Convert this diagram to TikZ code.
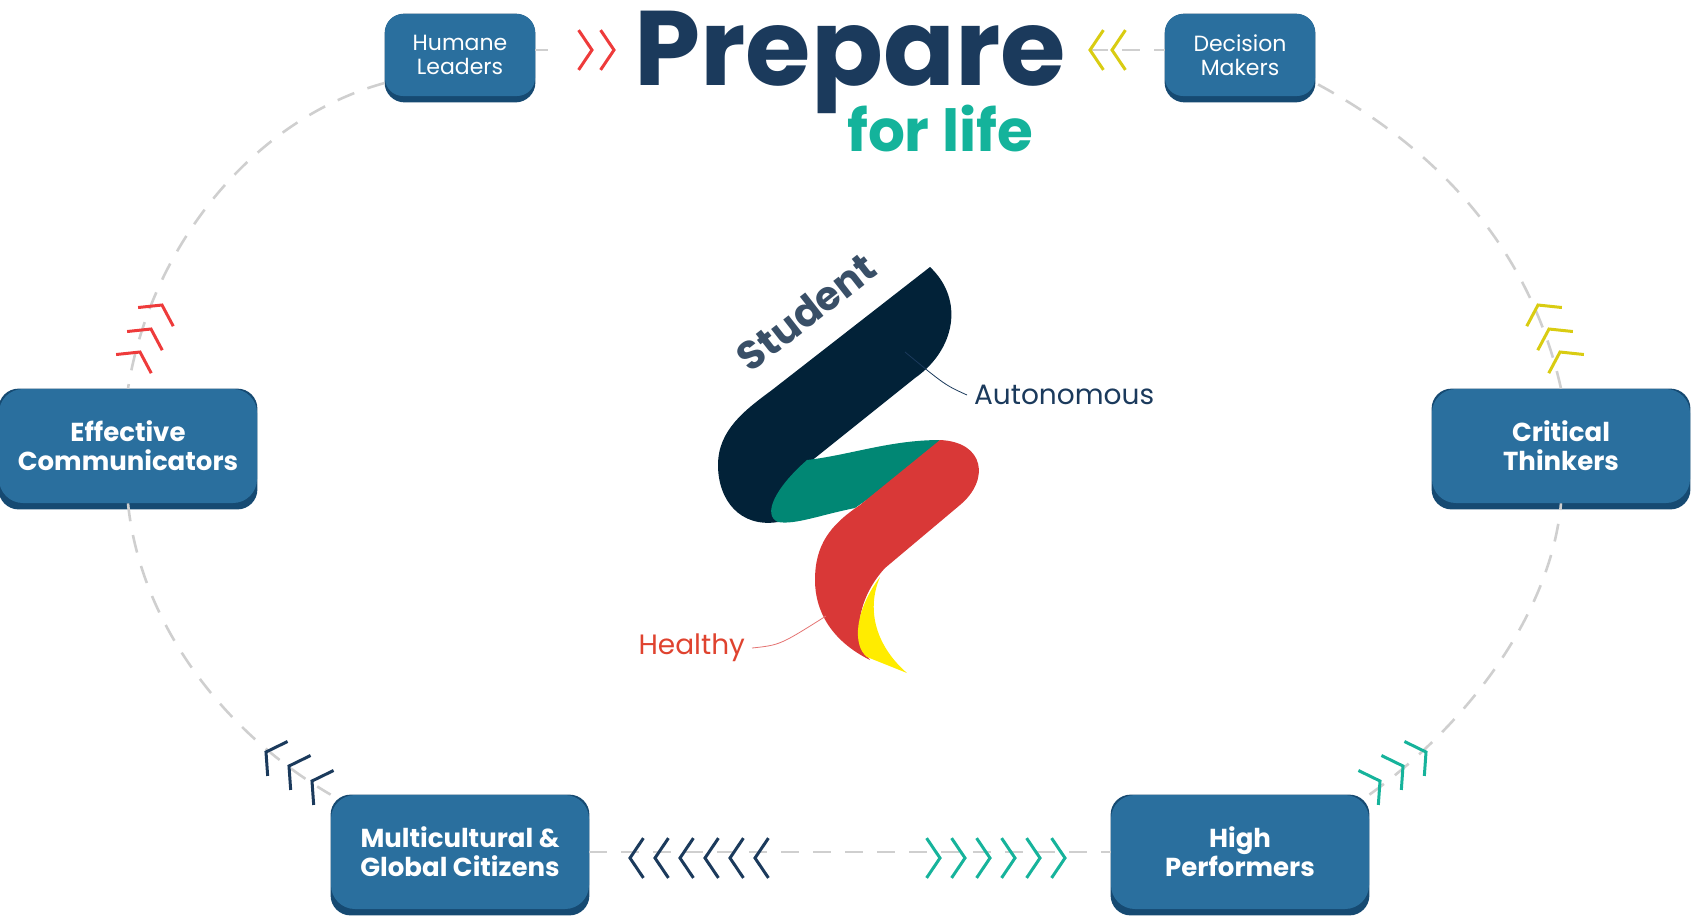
\documentclass[tikz,border=0pt]{standalone}
\usepackage{fontspec}
\setmainfont{Poppins}
\usetikzlibrary{positioning,backgrounds,calc}
\definecolor{boxblue}{HTML}{2A6F9E}
\definecolor{boxshade}{HTML}{164A72}
\definecolor{navy}{HTML}{1B3A5C}
\definecolor{logonavy}{HTML}{022238}
\definecolor{logogreen}{HTML}{018774}
\definecolor{logored}{HTML}{D93837}
\definecolor{logoyellow}{HTML}{FFEC00}
\definecolor{teal}{HTML}{14B39B}
\definecolor{chevred}{HTML}{EE3B3B}
\definecolor{chevyellow}{HTML}{D9CC12}
\definecolor{chevnavy}{HTML}{1B3A5C}
\definecolor{chevteal}{HTML}{16B39B}
\definecolor{dashgray}{HTML}{CFCFCF}
\begin{document}
\begin{tikzpicture}[x=0.5pt, y=-0.5pt,
small box/.style={fill=boxblue, rounded corners=9pt, minimum width=75pt, minimum height=41pt,
  text=white, align=center, font=\fontsize{11}{12}\selectfont, inner sep=2pt},
big box/.style={small box, minimum width=129pt, minimum height=57pt, rounded corners=12pt,
  font=\bfseries\fontsize{13}{14.5}\selectfont},
ring/.style={dashgray, line width=1.3pt, dash pattern=on 9pt off 7pt},
chev/.style={line width=1.5pt, line cap=butt},
lead/.style={line width=0.4pt}]

\useasboundingbox (0,0) rectangle (1691,918);

% boxes with shadow
\foreach \nm/\cx/\cy/\txt/\sty in {
  hum/460/55/{Humane\\Leaders}/small box,
  dec/1240/55/{Decision\\Makers}/small box,
  eff/128/446/{Effective\\Communicators}/big box,
  cri/1561/446/{Critical\\Thinkers}/big box,
  mul/460/852/{Multicultural \&\\Global Citizens}/big box,
  hig/1240/852/{High\\Performers}/big box}{
  \node[\sty] (\nm) at (\cx,\cy) {\txt};
  \begin{pgfonlayer}{background}
    \fill[boxshade, rounded corners=10pt] ([yshift=-3pt]\nm.south west) rectangle (\nm.north east);
  \end{pgfonlayer}
}

% dashed ring
\coordinate (ptl) at (548,50);
\coordinate (ptr) at (1090,50);
\draw[ring] (hum.east |- ptl) -- (ptl);
\draw[ring] (ptr) -- (dec.west |- ptr);
\draw[ring] ([yshift=-14pt]hum.west) .. controls (250,120) and (150,250) .. (eff.north);
\draw[ring] (eff.south) .. controls (140,620) and (220,730) .. (mul.north west);
\draw[ring] (mul.east) -- (hig.west);
\draw[ring] (hig.north east) .. controls (1460,730) and (1550,620) .. (cri.south);
\draw[ring] (cri.north) .. controls (1530,250) and (1440,150) .. ([yshift=-14pt]dec.east);

% chevrons: tip x, y, pointing angle
\def\chevron#1#2#3#4{\draw[chev,#1] ($(#2,#3)+(#4+124:24)$) -- (#2,#3) -- ($(#2,#3)+(#4-124:24)$);}
\foreach \x in {592,614} {\chevron{chevred}{\x}{50}{0}}
\foreach \x in {1090,1112} {\chevron{chevyellow}{\x}{50}{180}}
\foreach \x/\y in {140/352,151/329,162/305} {\chevron{chevred}{\x}{\y}{-62}}
\foreach \x/\y in {1560/352,1549/329,1538/305} {\chevron{chevyellow}{\x}{\y}{-118}}
\foreach \x/\y in {266/752,289/766,312/781} {\chevron{chevnavy}{\x}{\y}{-150}}
\foreach \x/\y in {1426/752,1403/766,1380/781} {\chevron{chevteal}{\x}{\y}{-30}}
\foreach \x in {0,...,5} {\chevron{chevnavy}{630+\x*25}{858}{180}}
\foreach \x in {0,...,5} {\chevron{chevteal}{940+\x*25}{858}{0}}

% title
\node[text=navy, font=\bfseries\fontsize{53}{53}\selectfont] (prep) at (850,62) {Prepare};
\node[text=teal, font=\bfseries\fontsize{29}{29}\selectfont, anchor=east] (life) at (1040,128) {for life};

% logo ribbon
\fill[logonavy] (930,267) .. controls (965,300) and (955,350) .. (915,378) -- (810,462)
  .. controls (790,480) and (770,505) .. (778,522) .. controls (740,528) and (718,500) .. (718,465)
  .. controls (718,430) and (745,410) .. (772,390) -- cycle;
\fill[logogreen] (807,460) .. controls (850,455) and (890,440) .. (940,440)
  .. controls (915,470) and (880,490) .. (855,508) .. controls (820,515) and (795,525) .. (778,522)
  .. controls (762,515) and (775,488) .. (807,460) -- cycle;
\fill[logored] (940,440) .. controls (985,442) and (990,480) .. (960,505) -- (885,568)
  .. controls (860,595) and (850,635) .. (870,660) .. controls (830,640) and (815,610) .. (815,580)
  .. controls (815,545) and (830,525) .. (860,505) -- cycle;
\fill[logoyellow] (880,577) .. controls (855,610) and (852,645) .. (867,657) -- (907,673)
  .. controls (878,648) and (865,612) .. (880,577) -- cycle;

% logo labels
\node[text=navy!70!gray, font=\bfseries\fontsize{20}{20}\selectfont, rotate=38, inner sep=0pt] (stu) at (806,312) {Student};
\node[text=navy, font=\fontsize{14}{14}\selectfont, anchor=west] (aut) at (967,395) {Autonomous};
\node[text=logored!85!orange, font=\fontsize{14}{14}\selectfont, anchor=east] (hea) at (752,648) {Healthy};
\coordinate (autpt) at (905,352);
\coordinate (heapt) at (826,616);
\draw[lead, navy] (autpt) .. controls (945,385) .. (aut.west);
\draw[lead, logored!70] (heapt) .. controls (780,645) .. (hea.east);
\end{tikzpicture}
\end{document}
